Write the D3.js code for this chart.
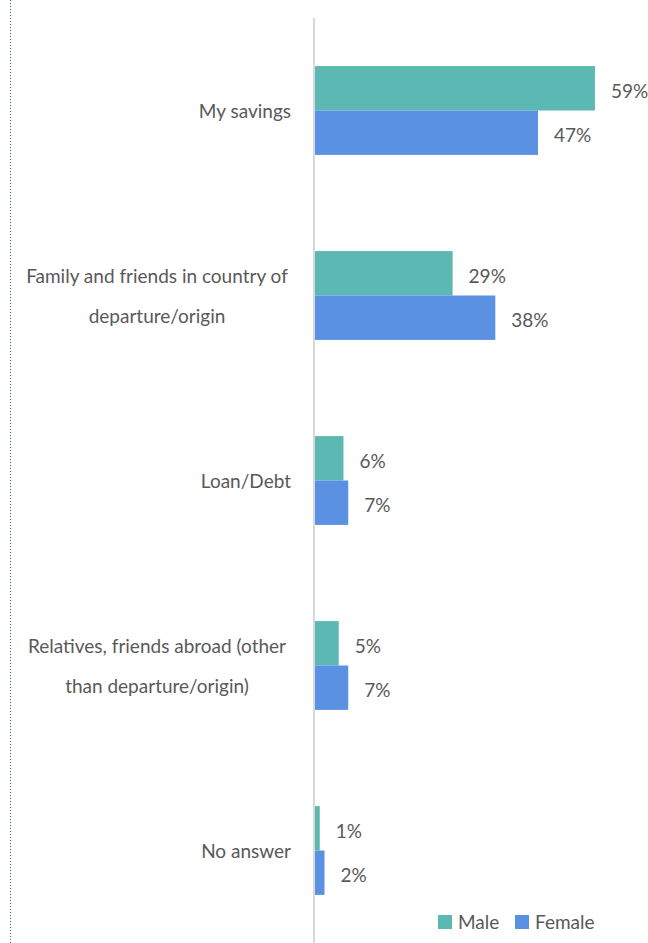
<!DOCTYPE html>
<html>
<head>
<meta charset="utf-8">
<script src="https://cdn.jsdelivr.net/npm/d3@7"></script>
<style>
  html, body { margin: 0; padding: 0; background: #fff; }
  svg { display: block; }
  text { font-family: Lato, "Open Sans", sans-serif; fill: #595959; }
</style>
</head>
<body>
<svg id="chart" width="648" height="943"></svg>
<script>
// Sources of funding for the journey, by sex (%)
const categories = [
  ["My savings"],
  ["Family and friends in country of", "departure/origin"],
  ["Loan/Debt"],
  ["Relatives, friends abroad (other", "than departure/origin)"],
  ["No answer"]
];
const seriesNames = ["Male", "Female"];
const maleValues = [59, 29, 6, 5, 1];
const femaleValues = [47, 38, 7, 7, 2];
const colors = ["#5cb8b2", "#5b91e3"];

const svg = d3.select("#chart");
const W = 648, H = 943;
const FS = 19;

// left frame edge (dotted)
svg.append("line")
  .attr("x1", 10.5).attr("x2", 10.5).attr("y1", 0).attr("y2", H)
  .attr("stroke", "#3a64c8").attr("stroke-width", 1)
  .attr("stroke-dasharray", "1,2");

const x0 = 315;
const x = d3.scaleLinear().domain([0, 100]).range([x0, x0 + 474.5]);
const keys = categories.map((c, i) => i);
const y = d3.scaleBand().domain(keys).range([18, 943]).paddingInner(0.52).paddingOuter(0.26);
const ySub = d3.scaleBand().domain(seriesNames).range([0, y.bandwidth()]);

const rows = keys.map(i => ({
  i,
  values: [
    { s: "Male", v: maleValues[i] },
    { s: "Female", v: femaleValues[i] }
  ]
}));

const g = svg.append("g");
const grp = g.selectAll("g.cat").data(rows).join("g")
  .attr("class", "cat")
  .attr("transform", d => `translate(0,${y(d.i)})`);

grp.selectAll("rect").data(d => d.values).join("rect")
  .attr("x", x(0))
  .attr("y", d => ySub(d.s))
  .attr("width", d => x(d.v) - x(0))
  .attr("height", ySub.bandwidth())
  .attr("fill", (d, k) => colors[k]);

grp.selectAll("text.val").data(d => d.values).join("text")
  .attr("class", "val")
  .attr("x", d => x(d.v) + 16)
  .attr("y", d => ySub(d.s) + ySub.bandwidth() / 2 + 3)
  .attr("dy", "0.35em")
  .attr("font-size", FS)
  .text(d => d.v + "%");

// category labels: single lines right-aligned, wrapped labels centred
const lab = g.selectAll("text.cat").data(rows).join("text")
  .attr("class", "cat")
  .attr("font-size", FS);
lab.each(function(d) {
  const lines = categories[d.i];
  const multi = lines.length > 1;
  const cy = y(d.i) + y.bandwidth() / 2 + 1;
  const lh = 40;
  const top = cy - (lines.length - 1) * lh / 2;
  d3.select(this)
    .attr("text-anchor", multi ? "middle" : "end")
    .selectAll("tspan").data(lines).join("tspan")
    .attr("x", multi ? 157 : 291)
    .attr("y", (l, j) => top + j * lh)
    .attr("dy", "0.35em")
    .text(l => l);
});

// axis line
svg.append("line")
  .attr("x1", x0 - 1).attr("x2", x0 - 1).attr("y1", 18).attr("y2", H)
  .attr("stroke", "#d9d9d9").attr("stroke-width", 2);

// legend
const legend = svg.append("g").attr("transform", "translate(438,915)");
const legX = [0, 77];
seriesNames.forEach((s, k) => {
  const lg = legend.append("g").attr("transform", `translate(${legX[k]},0)`);
  lg.append("rect").attr("width", 14).attr("height", 14).attr("fill", colors[k]);
  lg.append("text").attr("x", 20).attr("y", 7).attr("dy", "0.35em")
    .attr("font-size", FS).text(s);
});
</script>
</body>
</html>
